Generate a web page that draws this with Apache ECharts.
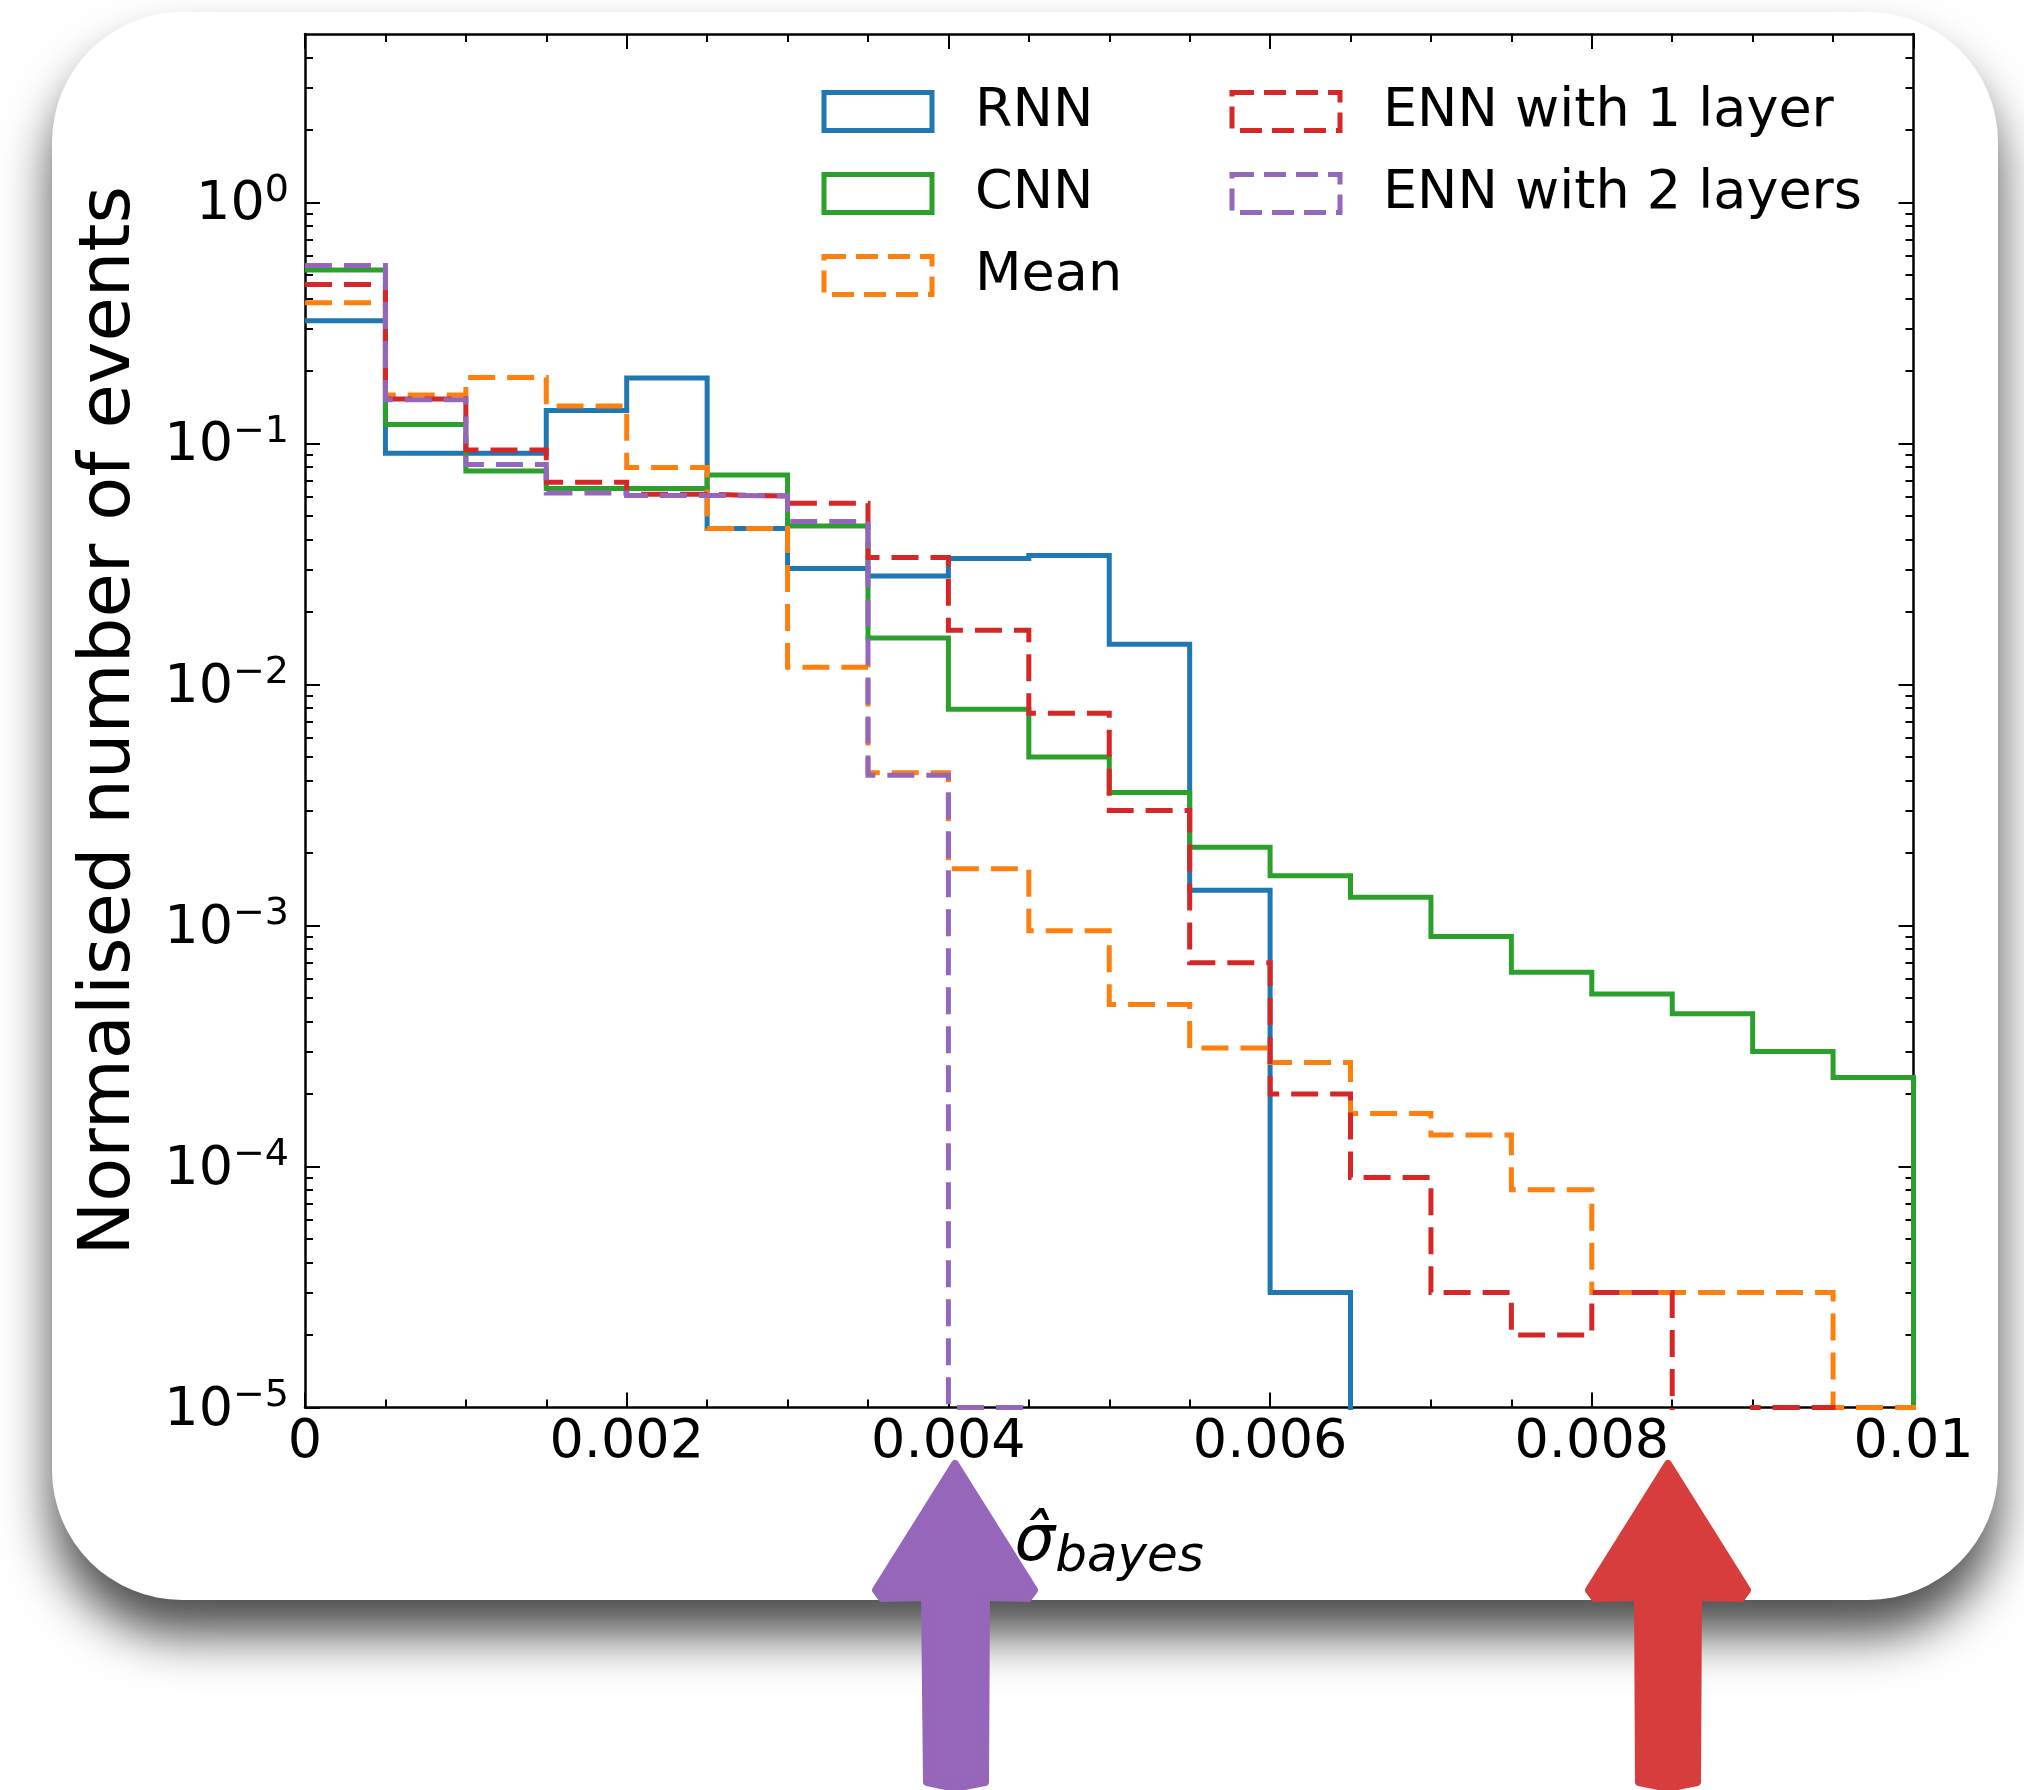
<!DOCTYPE html>
<html>
<head>
<meta charset="utf-8">
<script src="https://cdn.jsdelivr.net/npm/echarts@6/dist/echarts.min.js"></script>
<style>
html,body{margin:0;padding:0;background:#fff;}
#chart{width:2024px;height:1790px;}
</style>
</head>
<body>
<div id="chart"></div>
<script>
// ---------------- data ----------------
const binEdges = [0, 0.0005, 0.001, 0.0015, 0.002, 0.0025, 0.003, 0.0035, 0.004, 0.0045, 0.005,
                  0.0055, 0.006, 0.0065, 0.007, 0.0075, 0.008, 0.0085, 0.009, 0.0095, 0.01];
const rnnValues  = [0.323, 0.091, 0.091, 0.137, 0.187, 0.0444, 0.0303, 0.0282, 0.0333, 0.0343,
                    0.0147, 0.0014, 0.00003, 0, 0, 0, 0, 0, 0, 0];
const cnnValues  = [0.524, 0.120, 0.0768, 0.0650, 0.0650, 0.0739, 0.0455, 0.0156, 0.0079, 0.0050,
                    0.00356, 0.00211, 0.00161, 0.00131, 0.00090, 0.00064, 0.00052, 0.00043, 0.00030, 0.000234];
const meanValues = [0.384, 0.159, 0.188, 0.143, 0.0795, 0.0444, 0.0118, 0.0043, 0.00172, 0.00095,
                    0.00047, 0.00031, 0.00027, 0.000166, 0.000135, 0.00008, 0.00003, 0.00003, 0.00003, 0.00001];
const enn1Values = [0.457, 0.153, 0.094, 0.069, 0.0615, 0.0605, 0.0565, 0.0336, 0.0168, 0.0076,
                    0.0030, 0.0007, 0.0002, 0.00009, 0.00003, 0.00002, 0.00003, 0, 0.00001, 0];
const enn2Values = [0.548, 0.152, 0.0818, 0.0623, 0.0608, 0.0607, 0.0475, 0.0042, 0.00001, 0,
                    0, 0, 0, 0, 0, 0, 0, 0, 0, 0];
const seriesNames = ['RNN', 'CNN', 'Mean', 'ENN with 1 layer', 'ENN with 2 layers'];
const yMajorTicks = [1e-5, 1e-4, 1e-3, 1e-2, 1e-1, 1];
const xTickLabels = ['0', '0.002', '0.004', '0.006', '0.008', '0.01'];
const xAxisTitle = 'σ̂';
const xAxisSub = 'bayes';
const yAxisTitle = 'Normalised number of events';

// ---------------- helpers ----------------
const FONT = 'DejaVu Sans';
const COLORS = ['#1f77b4', '#2ca02c', '#ff7f0e', '#d62728', '#9467bd'];
const DASHED = [false, false, true, true, true];
const DASH = [27, 12];
const FLOOR = 1e-9; // empty bins: drawn below the visible log range (clipped)

const yMinorTicks = [];
for (let k = -5; k <= 0; k++) {
  for (let m = 2; m <= 9; m++) {
    const v = m * Math.pow(10, k);
    if (v < 5) yMinorTicks.push(+v.toPrecision(3));
  }
}

function toSteps(vals) {
  const pts = [];
  for (let i = 0; i < vals.length; i++) pts.push([binEdges[i], vals[i] > 0 ? vals[i] : FLOOR]);
  const last = vals[vals.length - 1];
  pts.push([binEdges[vals.length], last > 0 ? last : FLOOR]);
  pts.push([binEdges[vals.length], FLOOR]);
  return pts;
}

const allValues = [rnnValues, cnnValues, meanValues, enn1Values, enn2Values];

const series = allValues.map((vals, i) => ({
  type: 'line',
  name: seriesNames[i],
  step: 'end',
  data: toSteps(vals),
  symbol: 'none',
  clip: true,
  silent: true,
  animation: false,
  xAxisIndex: 0,
  yAxisIndex: 0,
  lineStyle: { color: COLORS[i], width: 5, type: DASHED[i] ? DASH : 'solid', cap: 'butt', join: 'miter' },
  itemStyle: { color: COLORS[i] }
}));

function legendItem(i) {
  return {
    name: seriesNames[i],
    icon: 'rect',
    itemStyle: {
      color: 'rgba(0,0,0,0)',
      borderColor: COLORS[i],
      borderWidth: 5,
      borderType: DASHED[i] ? [22, 10] : 'solid'
    }
  };
}

const legendText = { fontFamily: FONT, fontSize: 54, color: '#000', lineHeight: 38, padding: [0, 0, 0, 38] };

const axisLineStyle = { color: '#000', width: 2.5 };

function supLabel(v) {
  const e = Math.round(Math.log10(v));
  return '{b|10}{s|' + (e < 0 ? '\u2212' + (-e) : String(e)) + '}';
}

const yRich = {
  b: { fontFamily: FONT, fontSize: 54, color: '#000', lineHeight: 60, verticalAlign: 'bottom' },
  s: { fontFamily: FONT, fontSize: 38, color: '#000', lineHeight: 40, verticalAlign: 'top' }
};

function logAxis(position, major, showLine, showLabel, name) {
  const ax = {
    type: 'log',
    logBase: 10,
    position: position,
    min: 1e-5,
    max: 5,
    z: 3,
    splitLine: { show: false },
    axisLine: { show: showLine, lineStyle: axisLineStyle },
    axisTick: {
      show: true, inside: true,
      length: major ? 15 : 8,
      customValues: major ? yMajorTicks : yMinorTicks,
      lineStyle: { color: '#000', width: 2 }
    },
    axisLabel: showLabel ? {
      show: true,
      customValues: yMajorTicks,
      margin: 16,
      formatter: supLabel,
      rich: yRich
    } : { show: false },
    minorTick: { show: false }
  };
  if (name) {
    ax.name = name;
    ax.nameLocation = 'middle';
    ax.nameGap = 159;
    ax.nameRotate = 90;
    ax.nameTextStyle = { fontFamily: FONT, fontSize: 72, color: '#000', padding: [0, 0, 0, 0] };
  }
  return ax;
}

function valAxis(position, showLabel, withName) {
  const ax = {
    type: 'value',
    position: position,
    min: 0,
    max: 0.01,
    interval: 0.002,
    z: 3,
    splitLine: { show: false },
    axisLine: { show: true, lineStyle: axisLineStyle },
    axisTick: { show: true, inside: true, length: 15, lineStyle: { color: '#000', width: 2 } },
    minorTick: { show: true, splitNumber: 4, length: 8, lineStyle: { color: '#000', width: 2 } },
    axisLabel: showLabel ? {
      show: true,
      showMinLabel: true,
      showMaxLabel: true,
      margin: 8,
      fontFamily: FONT,
      fontSize: 54,
      lineHeight: 54,
      color: '#000',
      formatter: function (v) {
        const idx = Math.round(v / 0.002);
        return xTickLabels[idx] !== undefined ? xTickLabels[idx] : '';
      }
    } : { show: false }
  };
  if (withName) {
    ax.name = '{s|' + xAxisTitle + '}{b|' + xAxisSub + '}';
    ax.nameLocation = 'middle';
    ax.nameGap = 104;
    ax.nameTextStyle = {
      rich: {
        s: { fontFamily: FONT, fontStyle: 'italic', fontSize: 64, color: '#000', lineHeight: 72, verticalAlign: 'top' },
        b: { fontFamily: FONT, fontStyle: 'italic', fontSize: 50, color: '#000', lineHeight: 56, verticalAlign: 'bottom', padding: [27, 0, 0, 0] }
      }
    };
  }
  return ax;
}

const chart = echarts.init(document.getElementById('chart'), null, { renderer: 'canvas', width: 2024, height: 1790 });

const option = {
  backgroundColor: '#ffffff',
  animation: false,
  grid: { left: 305, right: 110.5, top: 34, bottom: 382.5, outerBoundsMode: 'none', containLabel: false },
  xAxis: [valAxis('bottom', true, true), valAxis('top', false, false)],
  yAxis: [
    logAxis('left', true, true, true, yAxisTitle),
    logAxis('left', false, false, false),
    logAxis('right', true, true, false),
    logAxis('right', false, false, false)
  ],
  legend: [
    {
      data: [legendItem(0), legendItem(1), legendItem(2)],
      orient: 'vertical', left: 821.5, top: 84.5, padding: 0,
      itemWidth: 108, itemHeight: 38, itemGap: 28,
      selectedMode: false, textStyle: legendText
    },
    {
      data: [legendItem(3), legendItem(4)],
      orient: 'vertical', left: 1229.5, top: 84.5, padding: 0,
      itemWidth: 108, itemHeight: 38, itemGap: 28,
      selectedMode: false, textStyle: legendText
    }
  ],
  graphic: [
    {
      type: 'rect', z: -10, silent: true,
      shape: { x: 52, y: 12, width: 1946, height: 1588, r: 130 },
      style: { fill: '#ffffff', shadowBlur: 50, shadowOffsetY: 35, shadowColor: 'rgba(0,0,0,0.7)' }
    },
    {
      type: 'polygon', z: 50, silent: true,
      shape: { points: [[955,1464],[1034,1590],[1028,1598],[986,1597],[985,1782],[955,1788],[927,1782],[925,1597],[882,1598],[876,1590]] },
      style: { fill: '#9566b9', stroke: '#9566b9', lineWidth: 8, lineJoin: 'round' }
    },
    {
      type: 'polygon', z: 50, silent: true,
      shape: { points: [[1668,1464],[1747,1590],[1741,1598],[1698,1597],[1697,1782],[1668,1788],[1639,1782],[1638,1597],[1595,1598],[1589,1590]] },
      style: { fill: '#d83d3d', stroke: '#d83d3d', lineWidth: 8, lineJoin: 'round' }
    }
  ],
  series: series
};

chart.setOption(option);
</script>
</body>
</html>
